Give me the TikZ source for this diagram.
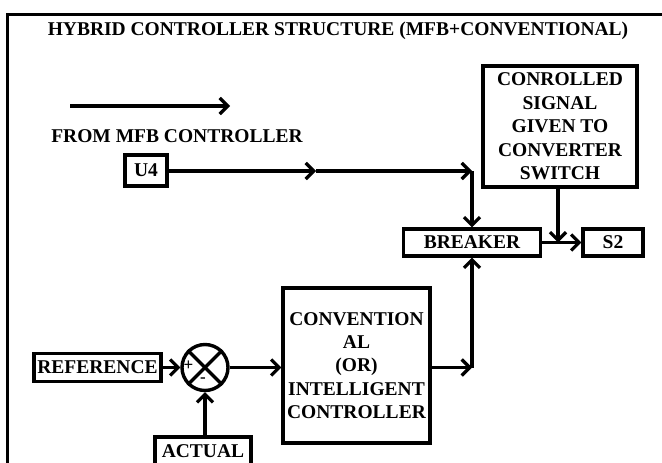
\documentclass[tikz,border=0pt]{standalone}
\usepackage{fontspec}
\setmainfont{Liberation Serif}
\usetikzlibrary{arrows.meta}
\tikzset{
  wire/.style={line width=3.4pt},
  arr/.style={wire, -{Straight Barb[length=8pt,width=16pt,line width=3.2pt]}},
  txt/.style={font=\bfseries\fontsize{19.5}{23}\selectfont, align=center, inner sep=0pt},
  blk/.style={txt, draw, line width=3.4pt},
}
\begin{document}
\begin{tikzpicture}[x=1pt,y=-1pt]
  \useasboundingbox (0,0) rectangle (662,463);
  \clip (0,0) rectangle (662,463);
  % outer frame (runs past the right and lower edges)
  \draw[line width=3.6pt] (7.5,480) -- (7.5,14.5) -- (680,14.5);

  \node[txt] (title) at (338,31) {HYBRID CONTROLLER STRUCTURE (MFB+CONVENTIONAL)};

  % legend arrow and source label
  \coordinate (la) at (70,106);
  \coordinate (lb) at (230,106);
  \draw[arr] (la) -- (lb);
  \node[txt] (from) at (177,136) {FROM MFB CONTROLLER};

  % blocks
  \node[blk, minimum width=42pt, minimum height=31pt] (u4) at (146,170.5) {U4};
  \node[blk, minimum width=154pt, minimum height=121pt, font=\bfseries\fontsize{19.5}{23.5}\selectfont] (ctl) at (560,126.5)
    {CONROLLED\\SIGNAL\\GIVEN TO\\CONVERTER\\SWITCH};
  \node[blk, minimum width=137pt, minimum height=27pt] (brk) at (472,242.5) {BREAKER};
  \node[blk, minimum width=60pt, minimum height=27pt] (s2) at (613,242.5) {S2};
  \node[blk, minimum width=147pt, minimum height=155pt, font=\bfseries\fontsize{19.5}{23.3}\selectfont] (conv) at (356.5,365.5)
    {CONVENTION\\AL\\(OR)\\INTELLIGENT\\CONTROLLER};
  \node[blk, minimum width=127pt, minimum height=28pt] (ref) at (97.5,367.5) {REFERENCE};
  \node[blk, minimum width=96pt, minimum height=29pt] (act) at (203,451.5) {ACTUAL};

  % summing junction
  \node[draw, circle, line width=3.4pt, minimum size=46pt, inner sep=0pt] (sum) at (205,367.5) {};
  \draw[wire] (sum.north west) -- (sum.south east);
  \draw[wire] (sum.north east) -- (sum.south west);
  \node[font=\bfseries\fontsize{17}{17}\selectfont, inner sep=0pt] (plus) at (188.5,366) {+};
  \node[font=\bfseries\fontsize{17}{17}\selectfont, inner sep=0pt] (minus) at (203,380) {-};

  % junction points
  \coordinate (mid) at (316,171);
  \coordinate (j1) at (472,171);
  \coordinate (j2) at (472,367.5);
  \coordinate (j3) at (558,242.5);

  % connectors
  \draw[arr] (u4.east |- mid) -- (mid);
  \draw[arr] (mid) -- (j1);
  \draw[arr] (j1) -- (brk.north);
  \draw[arr] (brk.east) -- (s2.west);
  \draw[arr] (ctl.south -| j3) -- (j3);
  \draw[arr] (ref.east) -- (sum.west);
  \draw[arr] (act.north -| sum) -- (sum.south);
  \draw[arr] (sum.east) -- (conv.west |- sum);
  \draw[arr] (conv.east |- j2) -- (j2);
  \draw[arr] (j2) -- (brk.south);
\end{tikzpicture}
\end{document}
